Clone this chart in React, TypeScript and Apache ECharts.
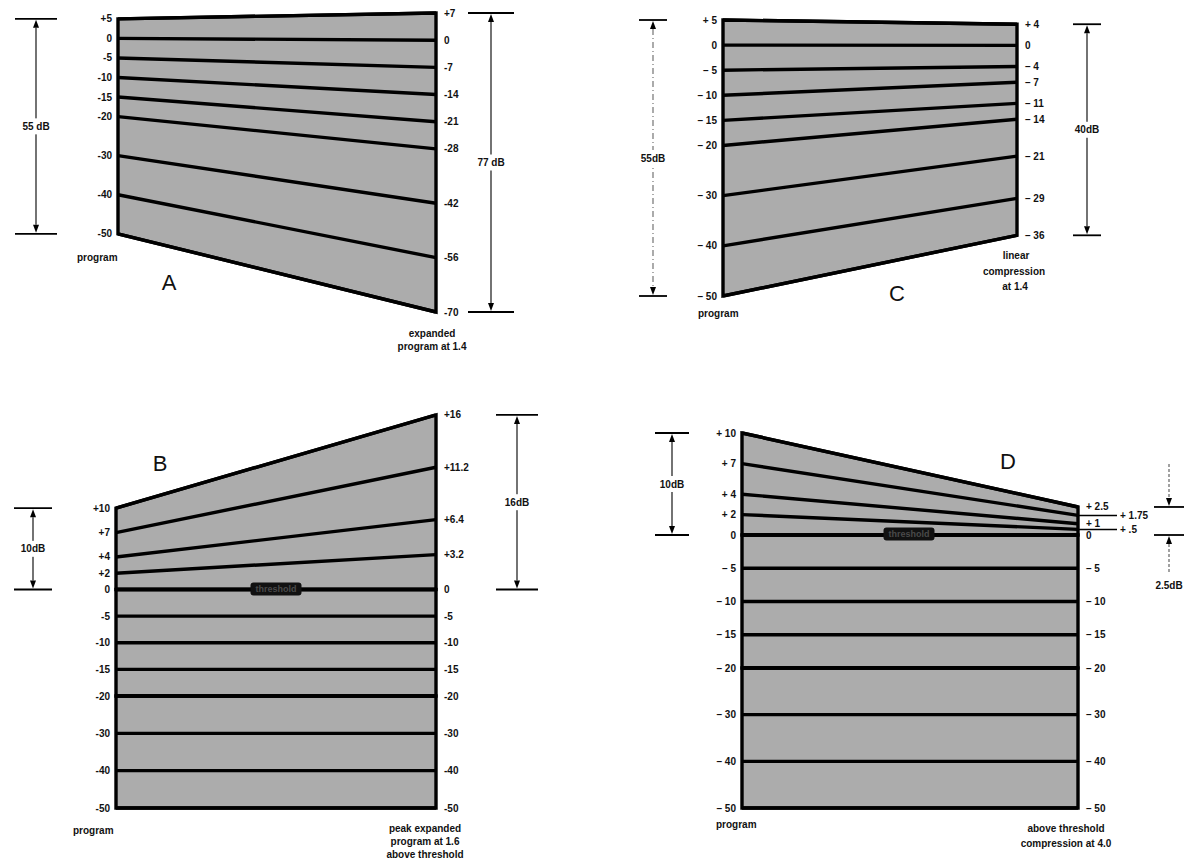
import React, { useEffect, useRef } from "react";
import * as echarts from "echarts";

// ---------------- data (dB levels) ----------------
// A: expansion 1:1.4
const aProgram = [5, 0, -5, -10, -15, -20, -30, -40, -50];
const aOutput = [7, 0, -7, -14, -21, -28, -42, -56, -70];
// B: peak expansion 1:1.6 above threshold
const bProgram = [10, 7, 4, 2, 0, -5, -10, -15, -20, -30, -40, -50];
const bOutput = [16, 11.2, 6.4, 3.2, 0, -5, -10, -15, -20, -30, -40, -50];
// C: linear compression 1.4:1
const cProgram = [5, 0, -5, -10, -15, -20, -30, -40, -50];
const cOutput = [4, 0, -4, -7, -11, -14, -21, -29, -36];
// D: compression 4:1 above threshold
const dProgram = [10, 7, 4, 2, 0, -5, -10, -15, -20, -30, -40, -50];
const dOutput = [2.5, 1.75, 1, 0.5, 0, -5, -10, -15, -20, -30, -40, -50];
const dOffsetLabels = [1.75, 0.5];

// dimension arrows: label, top value, bottom value
const dimLabels = ["55 dB", "77 dB", "10dB", "16dB", "55dB", "40dB", "10dB", "2.5dB"];
const dimTop = [5, 7, 10, 16, 5, 4, 10, 2.5];
const dimBottom = [-50, -70, 0, 0, -50, -36, 0, 0];

// ---------------- layout & styles ----------------
const FONT = '"Liberation Sans", "DejaVu Sans", Arial, sans-serif';
const FILL = "#acacac";
const INK = "#111";
const LINE_W = 3.4;

type Seg = { top: number; bottom: number; l: [number, number]; r: [number, number]; lo: number; hi: number };
type PanelDef = {
  id: string;
  program: number[];
  output: number[];
  x0: number;
  x1: number;
  spaced: boolean;
  farRight?: number[];
  segs: Seg[];
};

const PANELS: PanelDef[] = [
  {
    id: "A", program: aProgram, output: aOutput, x0: 118, x1: 436, spaced: false,
    segs: [{ top: 13, bottom: 312, l: [-70, 6.5], r: [-70, 7], lo: -50, hi: 5 }],
  },
  {
    id: "B", program: bProgram, output: bOutput, x0: 116, x1: 436, spaced: false,
    segs: [
      { top: 404, bottom: 589.5, l: [0, 22.8], r: [0, 17], lo: 0, hi: 10 },
      { top: 589.5, bottom: 696, l: [-20, 0], r: [-20, 0], lo: -20, hi: 0 },
      { top: 696, bottom: 808, l: [-50, -20], r: [-50, -20], lo: -50, hi: -20 },
    ],
  },
  {
    id: "C", program: cProgram, output: cOutput, x0: 723, x1: 1017, spaced: true,
    segs: [{ top: 20, bottom: 296, l: [-50, 5], r: [-47.5, 4.8], lo: -50, hi: 5 }],
  },
  {
    id: "D", program: dProgram, output: dOutput, x0: 742, x1: 1078, spaced: true, farRight: dOffsetLabels,
    segs: [
      { top: 433, bottom: 535, l: [0, 10], r: [0, 9.1], lo: 0, hi: 10 },
      { top: 535, bottom: 668, l: [-20, 0], r: [-20, 0], lo: -20, hi: 0 },
      { top: 668, bottom: 808, l: [-50, -20], r: [-50, -20], lo: -50, hi: -20 },
    ],
  },
];

const SEGS = PANELS.flatMap((p) =>
  p.segs.map((s, j) => ({ p, s, j, last: j === p.segs.length - 1 }))
);
const segIndex = (id: string, j: number) => SEGS.findIndex((e) => e.p.id === id && e.j === j);

type DimLayout = {
  panel: string; seg: number; side: "l" | "r"; anchor: "left" | "right";
  offset: number; half: number; mode: "out" | "in"; dash?: number[]; shaftColor?: string;
};
const DIM_LAYOUT: DimLayout[] = [
  { panel: "A", seg: 0, side: "l", anchor: "left", offset: -82, half: 21, mode: "out" },
  { panel: "A", seg: 0, side: "r", anchor: "right", offset: 55, half: 23, mode: "out" },
  { panel: "B", seg: 0, side: "l", anchor: "left", offset: -83, half: 19, mode: "out" },
  { panel: "B", seg: 0, side: "r", anchor: "right", offset: 81, half: 21, mode: "out" },
  { panel: "C", seg: 0, side: "l", anchor: "left", offset: -70, half: 14, mode: "out", dash: [6, 3, 1, 3], shaftColor: "#666" },
  { panel: "C", seg: 0, side: "r", anchor: "right", offset: 70, half: 14, mode: "out" },
  { panel: "D", seg: 0, side: "l", anchor: "left", offset: -70, half: 17, mode: "out" },
  { panel: "D", seg: 0, side: "r", anchor: "right", offset: 91, half: 15, mode: "in", dash: [3, 2], shaftColor: "#555" },
];

const CAPTIONS: { text: string; x: number; y: number; big?: boolean; left?: boolean }[] = [
  { text: "program", x: 77, y: 257, left: true },
  { text: "A", x: 169, y: 282, big: true },
  { text: "expanded", x: 432, y: 333 },
  { text: "program at 1.4", x: 432, y: 346 },
  { text: "program", x: 698, y: 313, left: true },
  { text: "C", x: 897, y: 293, big: true },
  { text: "linear", x: 1016, y: 255 },
  { text: "compression", x: 1014, y: 271 },
  { text: "at 1.4", x: 1015, y: 286 },
  { text: "B", x: 160, y: 463, big: true },
  { text: "program", x: 73, y: 830, left: true },
  { text: "peak expanded", x: 425, y: 828 },
  { text: "program at 1.6", x: 425, y: 841 },
  { text: "above threshold", x: 425, y: 854 },
  { text: "D", x: 1008, y: 461, big: true },
  { text: "program", x: 716, y: 824, left: true },
  { text: "above threshold", x: 1066, y: 828 },
  { text: "compression at 4.0", x: 1066, y: 843 },
];
const BLOBS = [
  { x: 276, y: 589 },
  { x: 909, y: 534 },
];

const fmt = (v: number, spaced: boolean) => {
  const a = Math.abs(v);
  let s = String(a);
  if (spaced && a > 0 && a < 1) s = s.replace(/^0/, "");
  if (v > 0) return (spaced ? "+ " : "+") + s;
  if (v < 0) return (spaced ? "\u2013 " : "-") + s;
  return "0";
};

export default function App() {
  const ref = useRef<HTMLDivElement>(null);

  useEffect(() => {
    if (!ref.current) return;
    const chart = echarts.init(ref.current, undefined, { renderer: "svg" });
    const labelStyle = { color: INK, fontSize: 10, fontWeight: "bold" as const, fontFamily: FONT };

    const grids = SEGS.map(({ p, s }) => ({
      left: p.x0, top: s.top, width: p.x1 - p.x0, height: s.bottom - s.top, outerBoundsMode: "none",
    }));
    const xAxes = SEGS.map((_, g) => ({ type: "value", gridIndex: g, min: 0, max: 1, show: false }));
    const yAxes: any[] = [];
    SEGS.forEach(({ p, s, last }, g) => {
      const idx = p.program
        .map((_, i) => i)
        .filter((i) => {
          const v = p.program[i];
          return (v > s.lo && v <= s.hi) || (last && v === s.lo);
        });
      const lt = idx.map((i) => p.program[i]);
      const rt = idx.map((i) => p.output[i]);
      const far = p.farRight || [];
      const farHere = rt.filter((v) => far.includes(v));
      yAxes.push({
        type: "value", gridIndex: g, position: "left", min: s.l[0], max: s.l[1],
        axisLine: { show: false }, axisTick: { show: false }, splitLine: { show: false },
        axisLabel: { ...labelStyle, margin: 6, customValues: lt, formatter: (v: number) => fmt(v, p.spaced) },
      });
      yAxes.push({
        type: "value", gridIndex: g, position: "right", min: s.r[0], max: s.r[1],
        axisLine: { show: false },
        axisTick: farHere.length
          ? { show: true, customValues: farHere, length: 39, inside: false, lineStyle: { color: "#000", width: 1.3 } }
          : { show: false },
        splitLine: { show: false },
        axisLabel: {
          ...labelStyle, margin: 8, customValues: rt,
          formatter: (v: number) => (far.includes(v) ? `{far|${fmt(v, p.spaced)}}` : fmt(v, p.spaced)),
          rich: { far: { ...labelStyle, padding: [0, 0, 0, 34] } },
        },
      });
    });

    const graphic: any[] = [
      ...CAPTIONS.map((c) => ({
        type: "text", x: c.x, y: c.y, z: 50,
        style: {
          text: c.text, fill: INK,
          font: c.big ? `22px ${FONT}` : `bold 10px ${FONT}`,
          align: c.left ? "left" : "center", textAlign: c.left ? "left" : "center",
          verticalAlign: "middle", textVerticalAlign: "middle",
        },
      })),
      ...BLOBS.map((b) => ({
        type: "text", x: b.x, y: b.y, z: 60,
        style: {
          text: "threshold", fill: "#4a4a4a", font: `bold 9px ${FONT}`,
          backgroundColor: "#111111", padding: [2, 5], borderRadius: 3,
          align: "center", textAlign: "center", verticalAlign: "middle", textVerticalAlign: "middle",
        },
      })),
    ];

    chart.setOption({
      animation: false,
      backgroundColor: "#ffffff",
      grid: grids,
      xAxis: xAxes,
      yAxis: yAxes,
      graphic,
      series: [],
    });

    // second pass: convert right-axis values into the left axis units of each grid
    const toLeft = (g: number, v: number, s: Seg) => {
      let back: any = NaN;
      try {
        const px = chart.convertToPixel({ yAxisIndex: 2 * g + 1 } as any, v as any) as any;
        back = chart.convertFromPixel({ yAxisIndex: 2 * g } as any, px) as any;
      } catch (e) {
        back = NaN;
      }
      if (typeof back === "number" && isFinite(back)) return back;
      return s.l[0] + ((v - s.r[0]) / (s.r[1] - s.r[0])) * (s.l[1] - s.l[0]);
    };

    const fillItem = (_params: any, api: any) => {
      const a = api.coord([0, api.value(0)]);
      const b = api.coord([1, api.value(1)]);
      const c = api.coord([1, api.value(3)]);
      const d = api.coord([0, api.value(2)]);
      return {
        type: "polygon",
        shape: { points: [a, b, c, d] },
        style: { fill: FILL, stroke: "#000", lineWidth: LINE_W, lineJoin: "miter" },
      };
    };
    const lineItem = (_params: any, api: any) => {
      const a = api.coord([0, api.value(0)]);
      const b = api.coord([1, api.value(1)]);
      return {
        type: "line",
        shape: { x1: a[0], y1: a[1], x2: b[0], y2: b[1] },
        style: { stroke: "#000", lineWidth: LINE_W, lineCap: "butt" },
      };
    };

    const series: any[] = [];
    SEGS.forEach(({ p, s }, g) => {
      const idx = p.program.map((_, i) => i).filter((i) => p.program[i] >= s.lo && p.program[i] <= s.hi);
      const top = idx[0];
      const bot = idx[idx.length - 1];
      series.push({
        type: "custom", xAxisIndex: g, yAxisIndex: 2 * g, z: 2, silent: true, clip: false,
        data: [[p.program[top], toLeft(g, p.output[top], s), p.program[bot], toLeft(g, p.output[bot], s)]],
        renderItem: fillItem,
      });
      series.push({
        type: "custom", xAxisIndex: g, yAxisIndex: 2 * g, z: 3, silent: true, clip: false,
        data: idx.map((i) => [p.program[i], toLeft(g, p.output[i], s)]),
        renderItem: lineItem,
      });
    });

    DIM_LAYOUT.forEach((d, k) => {
      const g = segIndex(d.panel, d.seg);
      const s = SEGS[g].s;
      const conv = (v: number) => (d.side === "l" ? v : toLeft(g, v, s));
      const label = dimLabels[k];
      series.push({
        type: "custom", xAxisIndex: g, yAxisIndex: 2 * g, z: 4, silent: true, clip: false,
        data: [[conv(dimTop[k]), conv(dimBottom[k])]],
        renderItem: (_params: any, api: any) => {
          const xr = d.anchor === "left" ? 0 : 1;
          const pT = api.coord([xr, api.value(0)]);
          const pB = api.coord([xr, api.value(1)]);
          const x = pT[0] + d.offset;
          const yT = pT[1];
          const yB = pB[1];
          const h = d.half;
          const AL = 9;
          const AW = 3;
          const shaftStyle = { stroke: d.shaftColor || "#000", lineWidth: 1.1, lineDash: d.dash || null };
          const kids: any[] = [
            { type: "line", shape: { x1: x - h, y1: yT, x2: x + h, y2: yT }, style: { stroke: "#000", lineWidth: 1.8 } },
            { type: "line", shape: { x1: x - h, y1: yB, x2: x + h, y2: yB }, style: { stroke: "#000", lineWidth: 1.8 } },
          ];
          let ly = (yT + yB) / 2;
          if (d.mode === "out") {
            kids.push({ type: "line", shape: { x1: x, y1: yT + AL, x2: x, y2: yB - AL }, style: shaftStyle });
            kids.push({ type: "polygon", shape: { points: [[x, yT + 1], [x - AW, yT + AL], [x + AW, yT + AL]] }, style: { fill: "#000" } });
            kids.push({ type: "polygon", shape: { points: [[x, yB - 1], [x - AW, yB - AL], [x + AW, yB - AL]] }, style: { fill: "#000" } });
          } else {
            kids.push({ type: "line", shape: { x1: x, y1: yT - 43, x2: x, y2: yT - AL }, style: shaftStyle });
            kids.push({ type: "line", shape: { x1: x, y1: yB + AL, x2: x, y2: yB + 38 }, style: shaftStyle });
            kids.push({ type: "polygon", shape: { points: [[x, yT - 1], [x - AW, yT - AL], [x + AW, yT - AL]] }, style: { fill: "#000" } });
            kids.push({ type: "polygon", shape: { points: [[x, yB + 1], [x - AW, yB + AL], [x + AW, yB + AL]] }, style: { fill: "#000" } });
            ly = yB + 50;
          }
          kids.push({
            type: "text", x, y: ly,
            style: {
              text: label, fill: INK, font: `bold 10px ${FONT}`,
              align: "center", textAlign: "center", verticalAlign: "middle", textVerticalAlign: "middle",
              backgroundColor: "#ffffff", padding: [3, 1],
            },
          });
          return { type: "group", children: kids };
        },
      });
    });

    chart.setOption({ series });

    return () => {
      chart.dispose();
    };
  }, []);

  return (
    <div
      ref={ref}
      style={{ position: "fixed", left: 0, top: 0, width: 1189, height: 859, background: "#fff" }}
    />
  );
}
